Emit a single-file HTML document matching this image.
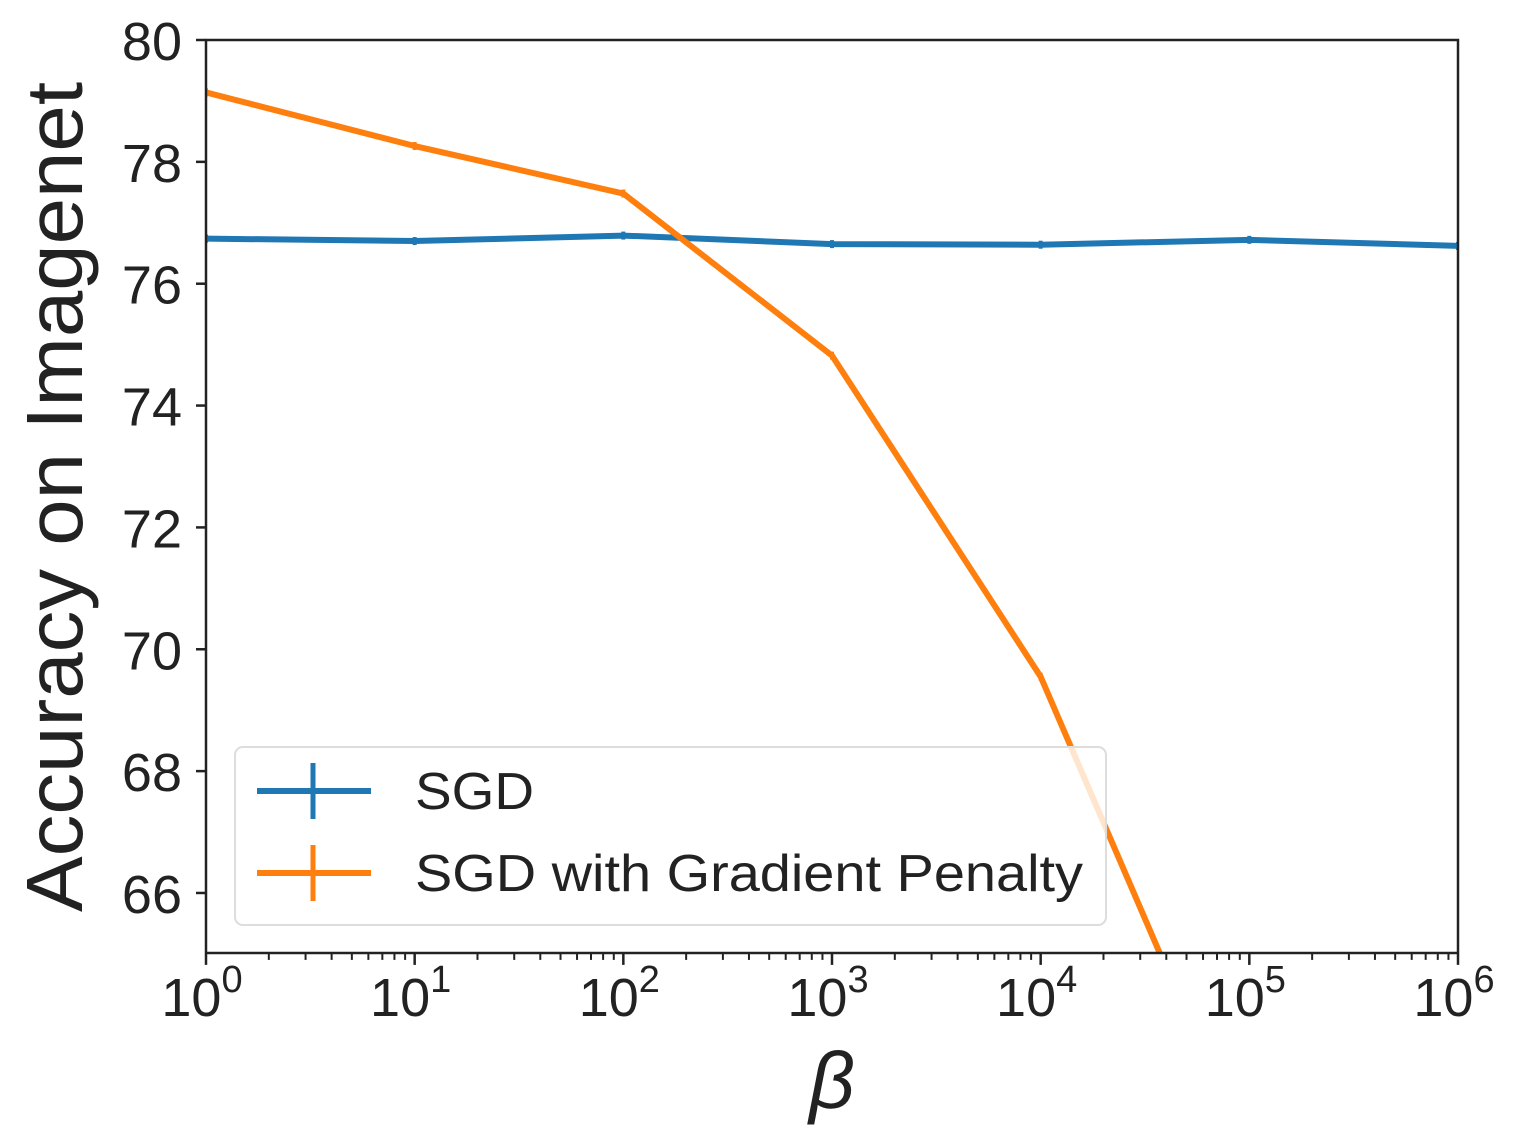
<!DOCTYPE html>
<html><head><meta charset="utf-8"><style>
html,body{margin:0;background:#fff;overflow:hidden;width:1522px;height:1147px}
svg{display:block}
svg text{font-family:"Liberation Sans",sans-serif;fill:#222}
</style></head><body>
<svg id="chart" width="1522" height="1147" xmlns="http://www.w3.org/2000/svg">
<g id="marks"></g>
<rect x="206" y="40" width="1252" height="913" fill="none" stroke="#222" stroke-width="2.5"/>
<g id="axes"></g>
<text transform="translate(82,497) rotate(-90)" text-anchor="middle" font-size="80" textLength="830" lengthAdjust="spacingAndGlyphs">Accuracy on Imagenet</text>
<text x="832" y="1108" text-anchor="middle" font-size="80" font-style="italic" font-family="Liberation Serif,serif">β</text>
<g>
<rect x="235" y="747" width="871" height="178" rx="8" fill="#fff" fill-opacity="0.8" stroke="#ddd" stroke-width="2"/>
<g>
<line x1="257" y1="791" x2="371" y2="791" stroke="#1f77b4" stroke-width="6"/>
<line x1="313" y1="763" x2="313" y2="819" stroke="#1f77b4" stroke-width="5"/>
<text x="415" y="809" font-size="52" textLength="119" lengthAdjust="spacingAndGlyphs">SGD</text></g>
<g>
<line x1="257" y1="873" x2="371" y2="873" stroke="#ff7f0e" stroke-width="6"/>
<line x1="313" y1="845" x2="313" y2="901" stroke="#ff7f0e" stroke-width="5"/>
<text x="415" y="891" font-size="52" textLength="668" lengthAdjust="spacingAndGlyphs">SGD with Gradient Penalty</text></g>
</g>
</svg>
<script>
const betaExp=[0,1,2,3,4,5,6];
const sgd=[76.74,76.70,76.79,76.65,76.64,76.72,76.62];
const sgdGP=[79.14,78.26,77.48,74.82,69.55,61.6,55];
const yTicks=[66,68,70,72,74,76,78,80];
const xTicks=[0,1,2,3,4,5,6];
const NS='http://www.w3.org/2000/svg';
const X0=206,X1=1458,Y0=953.9,Y1=40;
const xs=e=>X0+(X1-X0)*e/6;
const ys=v=>Y0-(Y0-Y1)*(v-65)/15;
const svg=document.getElementById('chart');
const marks=document.getElementById('marks'),axes=document.getElementById('axes');
function mk(t,a,p){const e=document.createElementNS(NS,t);for(const k in a)e.setAttribute(k,a[k]);p.appendChild(e);return e;}
const defs=mk('defs',{},svg);const cp=mk('clipPath',{id:'c'},defs);mk('rect',{x:X0,y:Y1,width:X1-X0,height:Y0-Y1},cp);
marks.setAttribute('clip-path','url(#c)');
function series(vals,color,name){
 const p=mk('polyline',{points:vals.map((v,i)=>xs(betaExp[i])+','+ys(v)).join(' '),fill:'none',stroke:color,'stroke-width':6,'stroke-linejoin':'round'},marks);
 
 
 vals.forEach((v,i)=>{const l=mk('line',{x1:xs(betaExp[i]),x2:xs(betaExp[i]),y1:ys(v)-4,y2:ys(v)+4,stroke:color,'stroke-width':4},marks);
 
 });
}
series(sgd,'#1f77b4','sgd-line');
series(sgdGP,'#ff7f0e','sgd-gp-line');
yTicks.forEach(t=>{const y=ys(t);mk('line',{x1:X0-10,x2:X0,y1:y,y2:y,stroke:'#222','stroke-width':2.5},axes);
 const tx=mk('text',{x:X0-24,y:y+20,'text-anchor':'end','font-size':54},axes);tx.textContent=t;
 
 });
xTicks.forEach(e=>{const x=xs(e);mk('line',{x1:x,x2:x,y1:Y0,y2:Y0+11,stroke:'#222','stroke-width':2.5},axes);
 const tx=mk('text',{x:x-4,y:1016,'text-anchor':'middle','font-size':54},axes);tx.textContent='10';
 
 
 const s=mk('tspan',{dy:-24,'font-size':38},tx);s.textContent=e;
 if(e<6)for(let k=2;k<10;k++){const xm=xs(e+Math.log10(k));mk('line',{x1:xm,x2:xm,y1:Y0,y2:Y0+6,stroke:'#222','stroke-width':2},axes);}
});
</script>
</body></html>
